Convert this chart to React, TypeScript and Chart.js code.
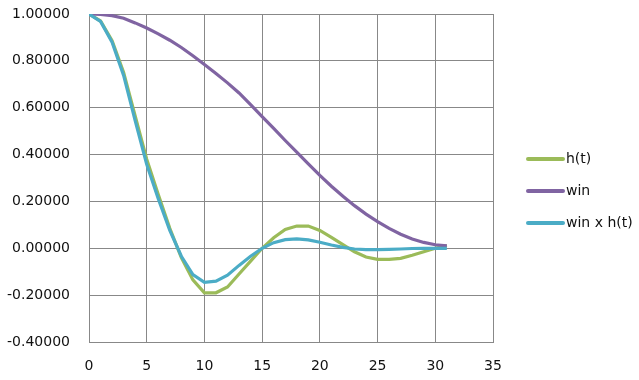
import React, { useEffect, useRef } from "react";
import { Chart, registerables } from "chart.js";

Chart.register(...registerables);

const tValues: number[] = [
  0, 1, 2, 3, 4, 5, 6, 7, 8, 9, 10, 11, 12, 13, 14, 15,
  16, 17, 18, 19, 20, 21, 22, 23, 24, 25, 26, 27, 28, 29, 30, 31,
];

const hValues: number[] = [
  1.0, 0.97, 0.886, 0.75, 0.565, 0.38, 0.23, 0.085, -0.04, -0.135, -0.19, -0.19,
  -0.165, -0.11, -0.055, 0.0, 0.045, 0.08, 0.095, 0.095, 0.076, 0.047, 0.016,
  -0.015, -0.037, -0.047, -0.047, -0.043, -0.03, -0.015, 0.0, 0.012,
];

const winValues: number[] = [
  1.0, 0.998, 0.993, 0.982, 0.962, 0.94, 0.915, 0.888, 0.857, 0.822, 0.784,
  0.746, 0.706, 0.663, 0.613, 0.562, 0.512, 0.46, 0.41, 0.36, 0.311, 0.265,
  0.222, 0.182, 0.146, 0.114, 0.085, 0.06, 0.04, 0.025, 0.015, 0.01,
];

const winHValues: number[] = [
  1.0, 0.968, 0.88, 0.738, 0.545, 0.358, 0.212, 0.076, -0.034, -0.112, -0.145,
  -0.14, -0.115, -0.073, -0.034, 0.0, 0.024, 0.037, 0.04, 0.036, 0.026, 0.014,
  0.004, -0.003, -0.006, -0.006, -0.005, -0.003, -0.001, 0.0, 0.0, 0.0,
];

const seriesLabels: string[] = ["h(t)", "win", "win x h(t)"];
const seriesColors: string[] = ["#9BBB59", "#8064A2", "#4BACC6"];

const FONT = "'DejaVu Sans', sans-serif";

const legendPlugin = {
  id: "customLegend",
  afterDraw(chart: any) {
    const { ctx, chartArea } = chart;
    const x0 = chartArea.right + 35;
    const x1 = chartArea.right + 70;
    const yc = 191;
    const gap = 32;
    ctx.save();
    chart.data.datasets.forEach((ds: any, i: number) => {
      const y = yc + (i - 1) * gap;
      ctx.strokeStyle = ds.borderColor;
      ctx.lineWidth = 4;
      ctx.lineCap = "round";
      ctx.beginPath();
      ctx.moveTo(x0, y);
      ctx.lineTo(x1, y);
      ctx.stroke();
      ctx.fillStyle = "#111";
      ctx.font = `14px ${FONT}`;
      ctx.textAlign = "left";
      ctx.textBaseline = "middle";
      ctx.fillText(ds.label, x1 + 3, y);
    });
    ctx.restore();
  },
};

export default function App() {
  const canvasRef = useRef<HTMLCanvasElement | null>(null);

  useEffect(() => {
    const canvas = canvasRef.current;
    if (!canvas) return;
    const series = [hValues, winValues, winHValues];
    const chart = new Chart(canvas, {
      type: "line",
      data: {
        datasets: series.map((vals, i) => ({
          label: seriesLabels[i],
          data: tValues.map((t, j) => ({ x: t, y: vals[j] })),
          borderColor: seriesColors[i],
          backgroundColor: seriesColors[i],
          borderWidth: 3.2,
          pointRadius: 0,
          tension: 0,
          fill: false,
          order: 3 - i,
        })),
      },
      options: {
        animation: false,
        responsive: false,
        devicePixelRatio: 1,
        layout: { padding: { left: 0, right: 146, top: 14, bottom: 0 } },
        plugins: {
          legend: { display: false },
          tooltip: { enabled: false },
        },
        scales: {
          x: {
            type: "linear",
            min: 0,
            max: 35,
            ticks: {
              stepSize: 5,
              padding: 16,
              color: "#111",
              font: { family: FONT, size: 14 },
            },
            grid: { color: "#888", lineWidth: 1, drawTicks: false },
            border: { color: "#888" },
            afterFit: (scale: any) => {
              scale.height = 38;
              scale.paddingLeft = 0;
              scale.paddingRight = 0;
            },
          },
          y: {
            type: "linear",
            min: -0.4,
            max: 1.0,
            ticks: {
              stepSize: 0.2,
              padding: 19,
              color: "#111",
              font: { family: FONT, size: 14 },
              callback: (v: any) => {
                const n = Math.abs(Number(v)) < 1e-9 ? 0 : Number(v);
                return n.toFixed(5);
              },
            },
            grid: { color: "#888", lineWidth: 1, drawTicks: false },
            border: { color: "#888" },
            afterFit: (scale: any) => {
              scale.width = 89;
              scale.paddingTop = 0;
              scale.paddingBottom = 0;
            },
          },
        },
      },
      plugins: [legendPlugin],
    });
    return () => chart.destroy();
  }, []);

  return (
    <div style={{ position: "fixed", left: 0, top: 0, width: 639, height: 380, background: "#fff" }}>
      <canvas ref={canvasRef} width={639} height={380} />
    </div>
  );
}
